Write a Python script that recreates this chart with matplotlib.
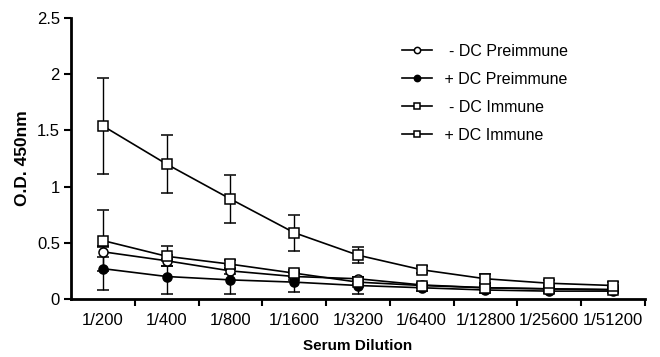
import numpy as np
import matplotlib.pyplot as plt
from matplotlib.lines import Line2D

plt.rcParams['font.family'] = ['Liberation Sans', 'DejaVu Sans']

dilutions = ['1/200', '1/400', '1/800', '1/1600', '1/3200', '1/6400',
             '1/12800', '1/25600', '1/51200']

# O.D. 450nm means and error bars
minus_pre = [0.42, 0.34, 0.25, 0.20, 0.18, 0.125, 0.10, 0.09, 0.085]
minus_pre_err = [0.05, 0.05, 0.03, 0.03, 0.02, 0.02, 0.02, 0.02, 0.02]
plus_pre = [0.27, 0.20, 0.17, 0.15, 0.12, 0.10, 0.08, 0.07, 0.07]
plus_pre_err = [0.19, 0.16, 0.13, 0.09, 0.08, 0.03, 0.03, 0.02, 0.02]
minus_imm = [0.52, 0.38, 0.31, 0.23, 0.15, 0.12, 0.10, 0.09, 0.08]
minus_imm_err = [0.27, 0.09, 0.04, 0.03, 0.02, 0.02, 0.02, 0.02, 0.02]
plus_imm = [1.54, 1.20, 0.89, 0.59, 0.39, 0.26, 0.18, 0.14, 0.12]
plus_imm_err = [0.43, 0.26, 0.21, 0.16, 0.07, 0.03, 0.04, 0.03, 0.03]

x = np.arange(len(dilutions))

fig = plt.figure(figsize=(6.6, 3.57), dpi=100)
ax = fig.add_axes([0.1076, 0.1625, 0.8694, 0.787])

series = [
    (minus_pre, minus_pre_err, 'o', 'white', '  - DC Preimmune'),
    (plus_pre, plus_pre_err, 'o', 'black', ' + DC Preimmune'),
    (minus_imm, minus_imm_err, 's', 'white', '  - DC Immune'),
    (plus_imm, plus_imm_err, 's', 'white', ' + DC Immune'),
]
handles = []
for y, err, m, fc, lab in series:
    ax.errorbar(x, y, yerr=err, fmt='-', marker=m, color='black', mfc=fc,
                mec='black', ms=6.5, mew=1.1, lw=1.2, elinewidth=1.0,
                capsize=4.5, capthick=1.0)
    handles.append(Line2D([], [], color='black', lw=1.2, marker=m, mfc=fc,
                          mec='black', ms=4.5, mew=1.1, label=lab))

ax.set_xlim(-0.5, len(dilutions) - 0.5)
ax.set_ylim(0, 2.5)
ax.set_yticks([0, 0.5, 1, 1.5, 2, 2.5])
ax.set_yticklabels(['0', '0.5', '1', '1.5', '2', '2.5'])

ax.set_xticks(np.arange(len(dilutions)) + 0.5)
ax.set_xticklabels([])
ax.set_xticks(x, minor=True)
ax.set_xticklabels(dilutions, minor=True)
ax.tick_params(axis='x', which='minor', length=0, pad=10, labelsize=12)
ax.tick_params(axis='x', which='major', length=5, width=1.5, direction='out')
ax.tick_params(axis='y', length=5, width=1.5, direction='out', labelsize=12, pad=3)

for s in ['top', 'right']:
    ax.spines[s].set_visible(False)
for s in ['left', 'bottom']:
    ax.spines[s].set_linewidth(2)

ax.set_ylabel('O.D. 450nm', fontsize=12.5, fontweight='bold', labelpad=2)
ax.yaxis.set_label_coords(-0.072, 0.5)
ax.set_xlabel('Serum Dilution', fontsize=11, fontweight='bold', labelpad=8)

leg = ax.legend(handles=handles, loc='upper left', bbox_to_anchor=(0.587, 0.918),
                bbox_transform=fig.transFigure, frameon=False, fontsize=11.5,
                handlelength=1.9, labelspacing=0.82, handletextpad=0.5)

fig.savefig('out.png', dpi=100)
